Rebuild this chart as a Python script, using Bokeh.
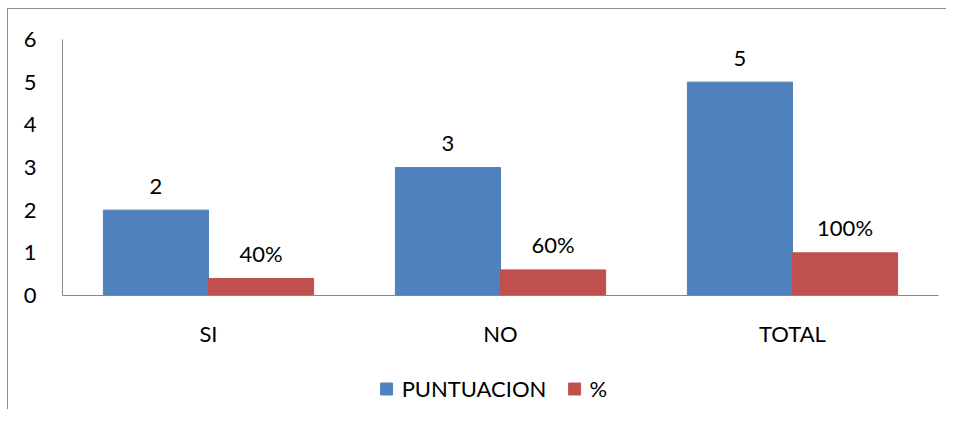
from bokeh.plotting import figure
from bokeh.layouts import column
from bokeh.models import ColumnDataSource, FactorRange, Range1d, FixedTicker, Legend, LegendItem
from bokeh.transform import dodge
from bokeh.embed import file_html
from bokeh.resources import INLINE
from bokeh.core.properties import value

categories = ["SI", "NO", "TOTAL"]
puntuacion = [2, 3, 5]
porcentaje = [0.4, 0.6, 1.0]
puntuacion_labels = ["2", "3", "5"]
porcentaje_labels = ["40%", "60%", "100%"]
y_ticks = [0, 1, 2, 3, 4, 5, 6]
series_names = ["PUNTUACION", "%"]

FONT = "Lato"
BLUE = "#4F81BD"
RED = "#C0504D"
GRAY = "#868686"

src = ColumnDataSource(dict(cat=categories, p=puntuacion, q=porcentaje,
                            pl=puntuacion_labels, ql=porcentaje_labels))

x_range = FactorRange(*categories, range_padding=0)
p = figure(x_range=x_range, y_range=Range1d(0, 6),
           frame_width=876, frame_height=256, output_backend="svg", toolbar_location=None,
           min_border_left=54, min_border_right=8, min_border_top=30, min_border_bottom=0)

p.vbar(x=dodge("cat", -0.18, range=x_range), top="p", width=0.36, source=src,
       fill_color=BLUE, line_color=BLUE)
p.vbar(x=dodge("cat", 0.18, range=x_range), top="q", width=0.36, source=src,
       fill_color=RED, line_color=RED)

p.text(x=dodge("cat", -0.18, range=x_range), y="p", text="pl", source=src,
       text_align="center", text_baseline="middle", y_offset=-24,
       text_font=value(FONT), text_font_size="22px", text_color="black")
p.text(x=dodge("cat", 0.18, range=x_range), y="q", text="ql", source=src,
       text_align="center", text_baseline="middle", y_offset=-25,
       text_font=value(FONT), text_font_size="22px", text_color="black")

p.xgrid.visible = False
p.ygrid.visible = False
p.outline_line_color = None

p.yaxis.ticker = FixedTicker(ticks=y_ticks)
for ax in (p.xaxis, p.yaxis):
    ax.axis_line_color = GRAY
    ax.major_tick_line_color = None
    ax.minor_tick_line_color = None
    ax.major_tick_out = 0
    ax.major_tick_in = 0
    ax.major_label_text_font = FONT
    ax.major_label_text_font_size = "22px"
    ax.major_label_text_color = "black"
p.yaxis.major_label_standoff = 26
p.xaxis.major_label_standoff = 24

# legend strip below the chart
q = figure(x_range=x_range, y_range=Range1d(100, 101), width=926, height=60,
           output_backend="svg", toolbar_location=None,
           x_axis_location=None, y_axis_location=None, min_border=0)
q.xgrid.visible = False
q.ygrid.visible = False
q.outline_line_color = None
r1 = q.vbar(x=dodge("cat", -0.18, range=x_range), top="p", width=0.36, source=src,
            fill_color=BLUE, line_color=BLUE)
r2 = q.vbar(x=dodge("cat", 0.18, range=x_range), top="q", width=0.36, source=src,
            fill_color=RED, line_color=RED)
legend = Legend(items=[LegendItem(label=series_names[0], renderers=[r1]),
                       LegendItem(label=series_names[1], renderers=[r2])],
                orientation="horizontal", location="top_center",
                glyph_width=15, glyph_height=15, label_text_font=FONT,
                label_text_font_size="22px", label_text_color="black",
                label_standoff=8, spacing=20,
                padding=0, margin=26, border_line_color=None, background_fill_alpha=0)
q.add_layout(legend, "center")

layout = column(p, q, spacing=0,
                styles={"border-left": "1px solid #8c8c8c", "border-top": "1px solid #8c8c8c",
                        "margin-left": "7px", "margin-top": "8px"})

open("out.html", "w").write(file_html(layout, INLINE))
